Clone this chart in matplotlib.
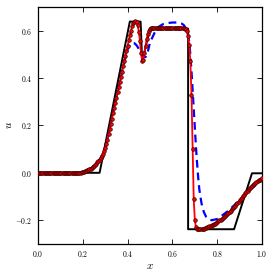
import numpy as np
import matplotlib
matplotlib.use('Agg')
import matplotlib.pyplot as plt
from matplotlib.ticker import FuncFormatter

plt.rcParams['mathtext.fontset'] = 'cm'
plt.rcParams['font.family'] = 'serif'

## reference (black) solution, piecewise
x_ref = [0.0, 0.275, 0.41, 0.458, 0.465, 0.5, 0.67, 0.67, 0.875, 0.955, 1.0]
u_ref = [0.0, 0.0, 0.638, 0.638, 0.47, 0.608, 0.608, -0.238, -0.238, -0.002, -0.002]

## red scheme, sampled every 0.005
u_red = [
    0.0, 0.0, 0.0, 0.0, 0.0, 0.0, 0.0, 0.0, 0.0, 0.0,
    0.0, 0.0, 0.0, 0.0, 0.0, 0.0, 0.0, 0.0, 0.0, 0.0,
    0.0, 0.0, 0.0, 0.0, 0.0, 0.0, 0.0, 0.0, 0.0, 0.0,
    0.0, 0.0, 0.0, 0.0, 0.0, 0.0, 0.0, 0.0, 0.001, 0.002,
    0.003, 0.004, 0.006, 0.008, 0.010, 0.012, 0.015, 0.018, 0.021, 0.025,
    0.029, 0.034, 0.039, 0.044, 0.050, 0.056, 0.062, 0.070, 0.080, 0.091,
    0.104, 0.120, 0.140, 0.162, 0.185, 0.207, 0.229, 0.251, 0.273, 0.295,
    0.317, 0.339, 0.361, 0.383, 0.405, 0.427, 0.449, 0.471, 0.493, 0.515,
    0.537, 0.559, 0.580, 0.600, 0.618, 0.631, 0.638, 0.640, 0.636, 0.622,
    0.595, 0.555, 0.505, 0.470, 0.478, 0.505, 0.535, 0.563, 0.585, 0.600,
    0.608, 0.611, 0.612, 0.612, 0.612, 0.612, 0.612, 0.612, 0.612, 0.612,
    0.612, 0.612, 0.612, 0.612, 0.612, 0.611, 0.611, 0.611, 0.611, 0.611,
    0.611, 0.611, 0.611, 0.611, 0.611, 0.610, 0.610, 0.610, 0.610, 0.609,
    0.609, 0.608, 0.606, 0.597, 0.578, 0.540, 0.470, 0.330, 0.100, -0.110,
    -0.200, -0.230, -0.237, -0.238, -0.238, -0.238, -0.237, -0.236, -0.235, -0.234,
    -0.232, -0.230, -0.228, -0.226, -0.224, -0.222, -0.219, -0.217, -0.214, -0.211,
    -0.208, -0.205, -0.201, -0.198, -0.194, -0.190, -0.186, -0.182, -0.178, -0.174,
    -0.169, -0.164, -0.159, -0.154, -0.149, -0.144, -0.138, -0.133, -0.127, -0.122,
    -0.116, -0.111, -0.105, -0.099, -0.093, -0.087, -0.081, -0.076, -0.070, -0.065,
    -0.060, -0.055, -0.050, -0.046, -0.042, -0.038, -0.035, -0.032, -0.029, -0.026,
    -0.024,
]
x_red = np.linspace(0, 1, len(u_red))

## blue dashed scheme
x_blue = [0.0, 0.18, 0.2, 0.22, 0.24, 0.26, 0.28, 0.30, 0.32, 0.34, 0.36, 0.38,
          0.39, 0.40, 0.41, 0.42, 0.43, 0.44, 0.45, 0.46, 0.47, 0.48, 0.49, 0.50,
          0.52, 0.54, 0.56, 0.58, 0.60, 0.62, 0.64, 0.65, 0.66, 0.665, 0.67,
          0.675, 0.68, 0.685, 0.69, 0.695, 0.70, 0.705, 0.71, 0.715, 0.72, 0.73,
          0.74, 0.75, 0.76, 0.775, 0.80, 0.85, 0.90, 0.95, 1.0]
u_blue = [0.0, 0.0, 0.003, 0.01, 0.021, 0.039, 0.062, 0.104, 0.185, 0.273, 0.361, 0.447,
          0.485, 0.52, 0.54, 0.548, 0.547, 0.538, 0.523, 0.505, 0.49, 0.488, 0.51, 0.55,
          0.59, 0.617, 0.628, 0.632, 0.634, 0.634, 0.63, 0.624, 0.61, 0.598, 0.582,
          0.55, 0.50, 0.43, 0.35, 0.27, 0.19, 0.11, 0.04, -0.02, -0.07, -0.13,
          -0.165, -0.185, -0.195, -0.2, -0.195, -0.16, -0.115, -0.068, -0.03]

fig = plt.figure(figsize=(2.75, 2.75), dpi=100)
ax = fig.add_axes([0.138, 0.113, 0.815, 0.862])

ax.plot(x_ref, u_ref, color='k', lw=1.4, zorder=2)
ax.plot(x_blue, u_blue, color='b', lw=1.6, ls=(0, (3.5, 2.2)), zorder=3)
ax.plot(x_red, u_red, color='r', lw=1.3, marker='o', ms=2.6,
        mfc='r', mec='#3a0000', mew=0.5, zorder=4)

ax.set_xlim(0, 1)
ax.set_ylim(-0.3, 0.7)
ax.set_xticks([0.0, 0.2, 0.4, 0.6, 0.8, 1.0])
ax.set_yticks([-0.2, 0.0, 0.2, 0.4, 0.6])
fmt = FuncFormatter(lambda v, p: '$%.1f$' % v)
ax.xaxis.set_major_formatter(fmt)
ax.yaxis.set_major_formatter(fmt)
ax.tick_params(direction='in', top=True, right=True, length=3.5, width=0.6,
               labelsize=5.5, pad=4)
for s in ax.spines.values():
    s.set_linewidth(0.9)

ax.set_xlabel('$x$', fontsize=8, labelpad=1)
ax.set_ylabel('$u$', fontsize=8, labelpad=1)

fig.savefig('out.png', dpi=100)
